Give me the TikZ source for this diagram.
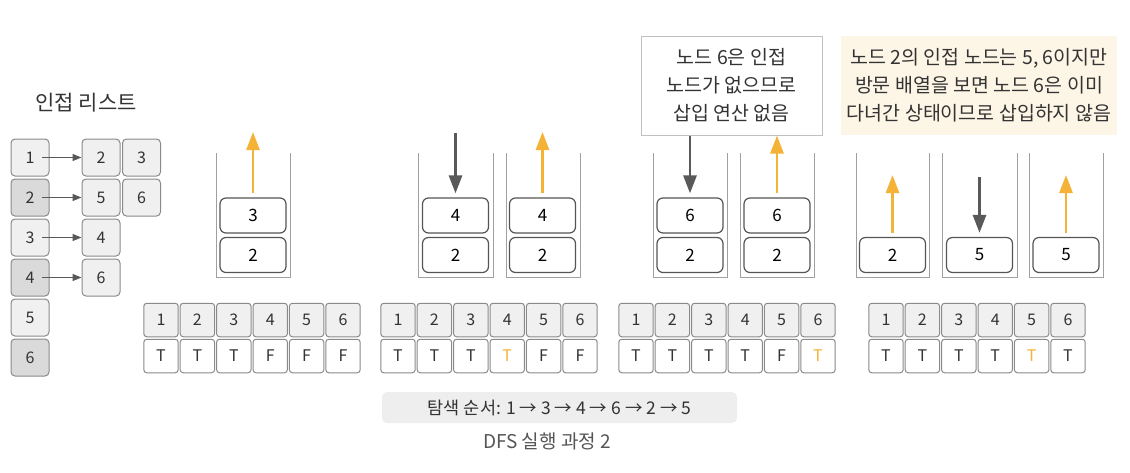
\documentclass[tikz,border=0pt]{standalone}
\usepackage{fontspec}
\setmainfont{Noto Sans CJK KR}
\usetikzlibrary{positioning,arrows.meta}
\definecolor{ink}{HTML}{333333}
\definecolor{hl}{HTML}{F4B336}
\definecolor{arrowgray}{HTML}{595959}
\definecolor{stackline}{HTML}{555555}
\definecolor{boxline}{HTML}{8A8A8A}
\definecolor{wallgray}{HTML}{A0A0A0}
\definecolor{cellfill}{HTML}{F0F0F0}
\definecolor{celldark}{HTML}{DADADA}
\definecolor{cream}{HTML}{FDF6E7}
\definecolor{seqfill}{HTML}{EEEEEE}
\definecolor{notegray}{HTML}{C0C0C0}
\begin{document}
\begin{tikzpicture}[x=1pt,y=-1pt,
    adj/.style={draw=boxline, fill=cellfill, line width=1pt, rounded corners=4pt,
      minimum width=38pt, minimum height=37pt, inner sep=0pt, text=ink,
      font=\fontsize{16}{16}\selectfont},
    adjdark/.style={adj, fill=celldark},
    link/.style={draw=arrowgray, line width=1.5pt, -{Triangle[length=9pt,width=7pt]}},
    idx/.style={draw=boxline, fill=cellfill, line width=1pt, rounded corners=3pt,
      minimum width=34.4pt, minimum height=33.5pt, inner sep=0pt, text=ink,
      font=\fontsize{16}{16}\selectfont},
    val/.style={idx, fill=white},
    hit/.style={val, text=hl},
    item/.style={draw=stackline, fill=white, line width=1.2pt, rounded corners=6pt,
      minimum width=66pt, minimum height=35pt, inner sep=0pt, text=black,
      font=\fontsize{17}{17}\selectfont},
    wall/.style={draw=wallgray, line width=1pt},
    push/.style={draw=arrowgray, line width=2.8pt, -{Triangle[length=18pt,width=13pt]}, shorten >=4pt},
    pop/.style={draw=hl, line width=2.8pt, -{Triangle[length=18pt,width=13pt]}, shorten <=4pt},
    note/.style={draw=notegray, fill=white, line width=1pt, minimum width=181pt,
      minimum height=99pt, inner sep=0pt, align=center, text=ink,
      font=\fontsize{19.5}{28}\selectfont},
    memo/.style={fill=cream, minimum width=276pt, minimum height=99pt, inner sep=0pt,
      align=center, text=ink, font=\fontsize{19.5}{28}\selectfont},
    seqbox/.style={fill=seqfill, rounded corners=5pt, minimum width=355pt,
      minimum height=31pt, inner sep=0pt, text=ink, font=\fontsize{17.5}{17.5}\selectfont},
    figcap/.style={text=stackline, font=\fontsize{19}{19}\selectfont}
  ]
  \useasboundingbox (0,0) rectangle (1130,472);

  % adjacency list
  \node[text=ink, font=\fontsize{21}{21}\selectfont] (head) at (86,103) {인접 리스트};
  \path
    (30,157.5) node[adj] (a1){1}
    (30,197.5) node[adjdark] (a2){2}
    (30,237.5) node[adj] (a3){3}
    (30,277.5) node[adjdark] (a4){4}
    (30,317.5) node[adj] (a5){5}
    (30,357.5) node[adjdark] (a6){6}
    (101,157.5) node[adj] (n12){2}
    (141.5,157.5) node[adj] (n13){3}
    (101,197.5) node[adj] (n25){5}
    (141.5,197.5) node[adj] (n26){6}
    (101,237.5) node[adj] (n34){4}
    (101,277.5) node[adj] (n46){6};
  \begin{scope}[link]
    \draw ([xshift=12pt]a1.center) to (n12);
    \draw ([xshift=12pt]a2.center) to (n25);
    \draw ([xshift=12pt]a3.center) to (n34);
    \draw ([xshift=12pt]a4.center) to (n46);
  \end{scope}

  % stacks
  \draw[wall] (216,153) |- (290,277) -- (290,153);
  \draw[wall] (418,153) |- (493,277) -- (493,153);
  \draw[wall] (506,153) |- (580,277) -- (580,153);
  \draw[wall] (653,153) |- (727,277) -- (727,153);
  \draw[wall] (740,153) |- (814,277) -- (814,153);
  \draw[wall] (856,153) |- (929,277) -- (929,153);
  \draw[wall] (942,153) |- (1017,277) -- (1017,153);
  \draw[wall] (1029,153) |- (1103,277) -- (1103,153);
  \path
    (253,215.5) node[item] (s1a){3}
    (253,255) node[item] (s1b){2}
    (455.5,215.5) node[item] (s2a){4}
    (455.5,255) node[item] (s2b){2}
    (542.5,215.5) node[item] (s3a){4}
    (542.5,255) node[item] (s3b){2}
    (690,215.5) node[item] (s4a){6}
    (690,255) node[item] (s4b){2}
    (777,215.5) node[item] (s5a){6}
    (777,255) node[item] (s5b){2}
    (892.5,255) node[item] (s6a){2}
    (979.5,255) node[item] (s7a){5}
    (1066,255) node[item] (s8a){5};

  % notes
  \node[note] (note) at (731.5,85.5) {노드 6은 인접\\노드가 없으므로\\삽입 연산 없음};
  \node[memo] (hint) at (979,85.5) {노드 2의 인접 노드는 5, 6이지만\\방문 배열을 보면 노드 6은 이미\\다녀간 상태이므로 삽입하지 않음};

  % push / pop
  \coordinate (o1) at (253,132);
  \coordinate (d2) at (455.5,133);
  \coordinate (o3) at (542.5,132);
  \coordinate (o6) at (892.5,175);
  \coordinate (d7) at (979.5,177);
  \coordinate (o8) at (1066,175);
  \draw[pop] (s1a) -- (o1);
  \draw[push] (d2) -- (s2a);
  \draw[pop] (s3a) -- (o3);
  \draw[push] (s4a |- note.south) -- (s4a);
  \draw[pop] (s5a) -- (s5a |- note.south);
  \draw[pop] (s6a) -- (o6);
  \draw[push] (d7) -- (s7a);
  \draw[pop] (s8a) -- (o8);

  % visited arrays
  \path
    (161,320) node[idx] (i11){1}
    (197.4,320) node[idx] (i12){2}
    (233.8,320) node[idx] (i13){3}
    (270.2,320) node[idx] (i14){4}
    (306.6,320) node[idx] (i15){5}
    (343,320) node[idx] (i16){6}
    (161,356) node[val] (t11){T}
    (197.4,356) node[val] (t12){T}
    (233.8,356) node[val] (t13){T}
    (270.2,356) node[val] (t14){F}
    (306.6,356) node[val] (t15){F}
    (343,356) node[val] (t16){F};
  \path
    (398,320) node[idx] (i21){1}
    (434.4,320) node[idx] (i22){2}
    (470.8,320) node[idx] (i23){3}
    (507.2,320) node[idx] (i24){4}
    (543.6,320) node[idx] (i25){5}
    (580,320) node[idx] (i26){6}
    (398,356) node[val] (t21){T}
    (434.4,356) node[val] (t22){T}
    (470.8,356) node[val] (t23){T}
    (507.2,356) node[hit] (t24){T}
    (543.6,356) node[val] (t25){F}
    (580,356) node[val] (t26){F};
  \path
    (636,320) node[idx] (i31){1}
    (672.4,320) node[idx] (i32){2}
    (708.8,320) node[idx] (i33){3}
    (745.2,320) node[idx] (i34){4}
    (781.6,320) node[idx] (i35){5}
    (818,320) node[idx] (i36){6}
    (636,356) node[val] (t31){T}
    (672.4,356) node[val] (t32){T}
    (708.8,356) node[val] (t33){T}
    (745.2,356) node[val] (t34){T}
    (781.6,356) node[val] (t35){F}
    (818,356) node[hit] (t36){T};
  \path
    (886,320) node[idx] (i41){1}
    (922.4,320) node[idx] (i42){2}
    (958.8,320) node[idx] (i43){3}
    (995.2,320) node[idx] (i44){4}
    (1031.6,320) node[idx] (i45){5}
    (1068,320) node[idx] (i46){6}
    (886,356) node[val] (t41){T}
    (922.4,356) node[val] (t42){T}
    (958.8,356) node[val] (t43){T}
    (995.2,356) node[val] (t44){T}
    (1031.6,356) node[hit] (t45){T}
    (1068,356) node[val] (t46){T};

  % order and caption
  \node[seqbox] (seq) at (559.5,407.5) {탐색 순서: 1 → 3 → 4 → 6 → 2 → 5};
  \node[figcap] (cap) at (547,441) {DFS 실행 과정 2};
\end{tikzpicture}
\end{document}
